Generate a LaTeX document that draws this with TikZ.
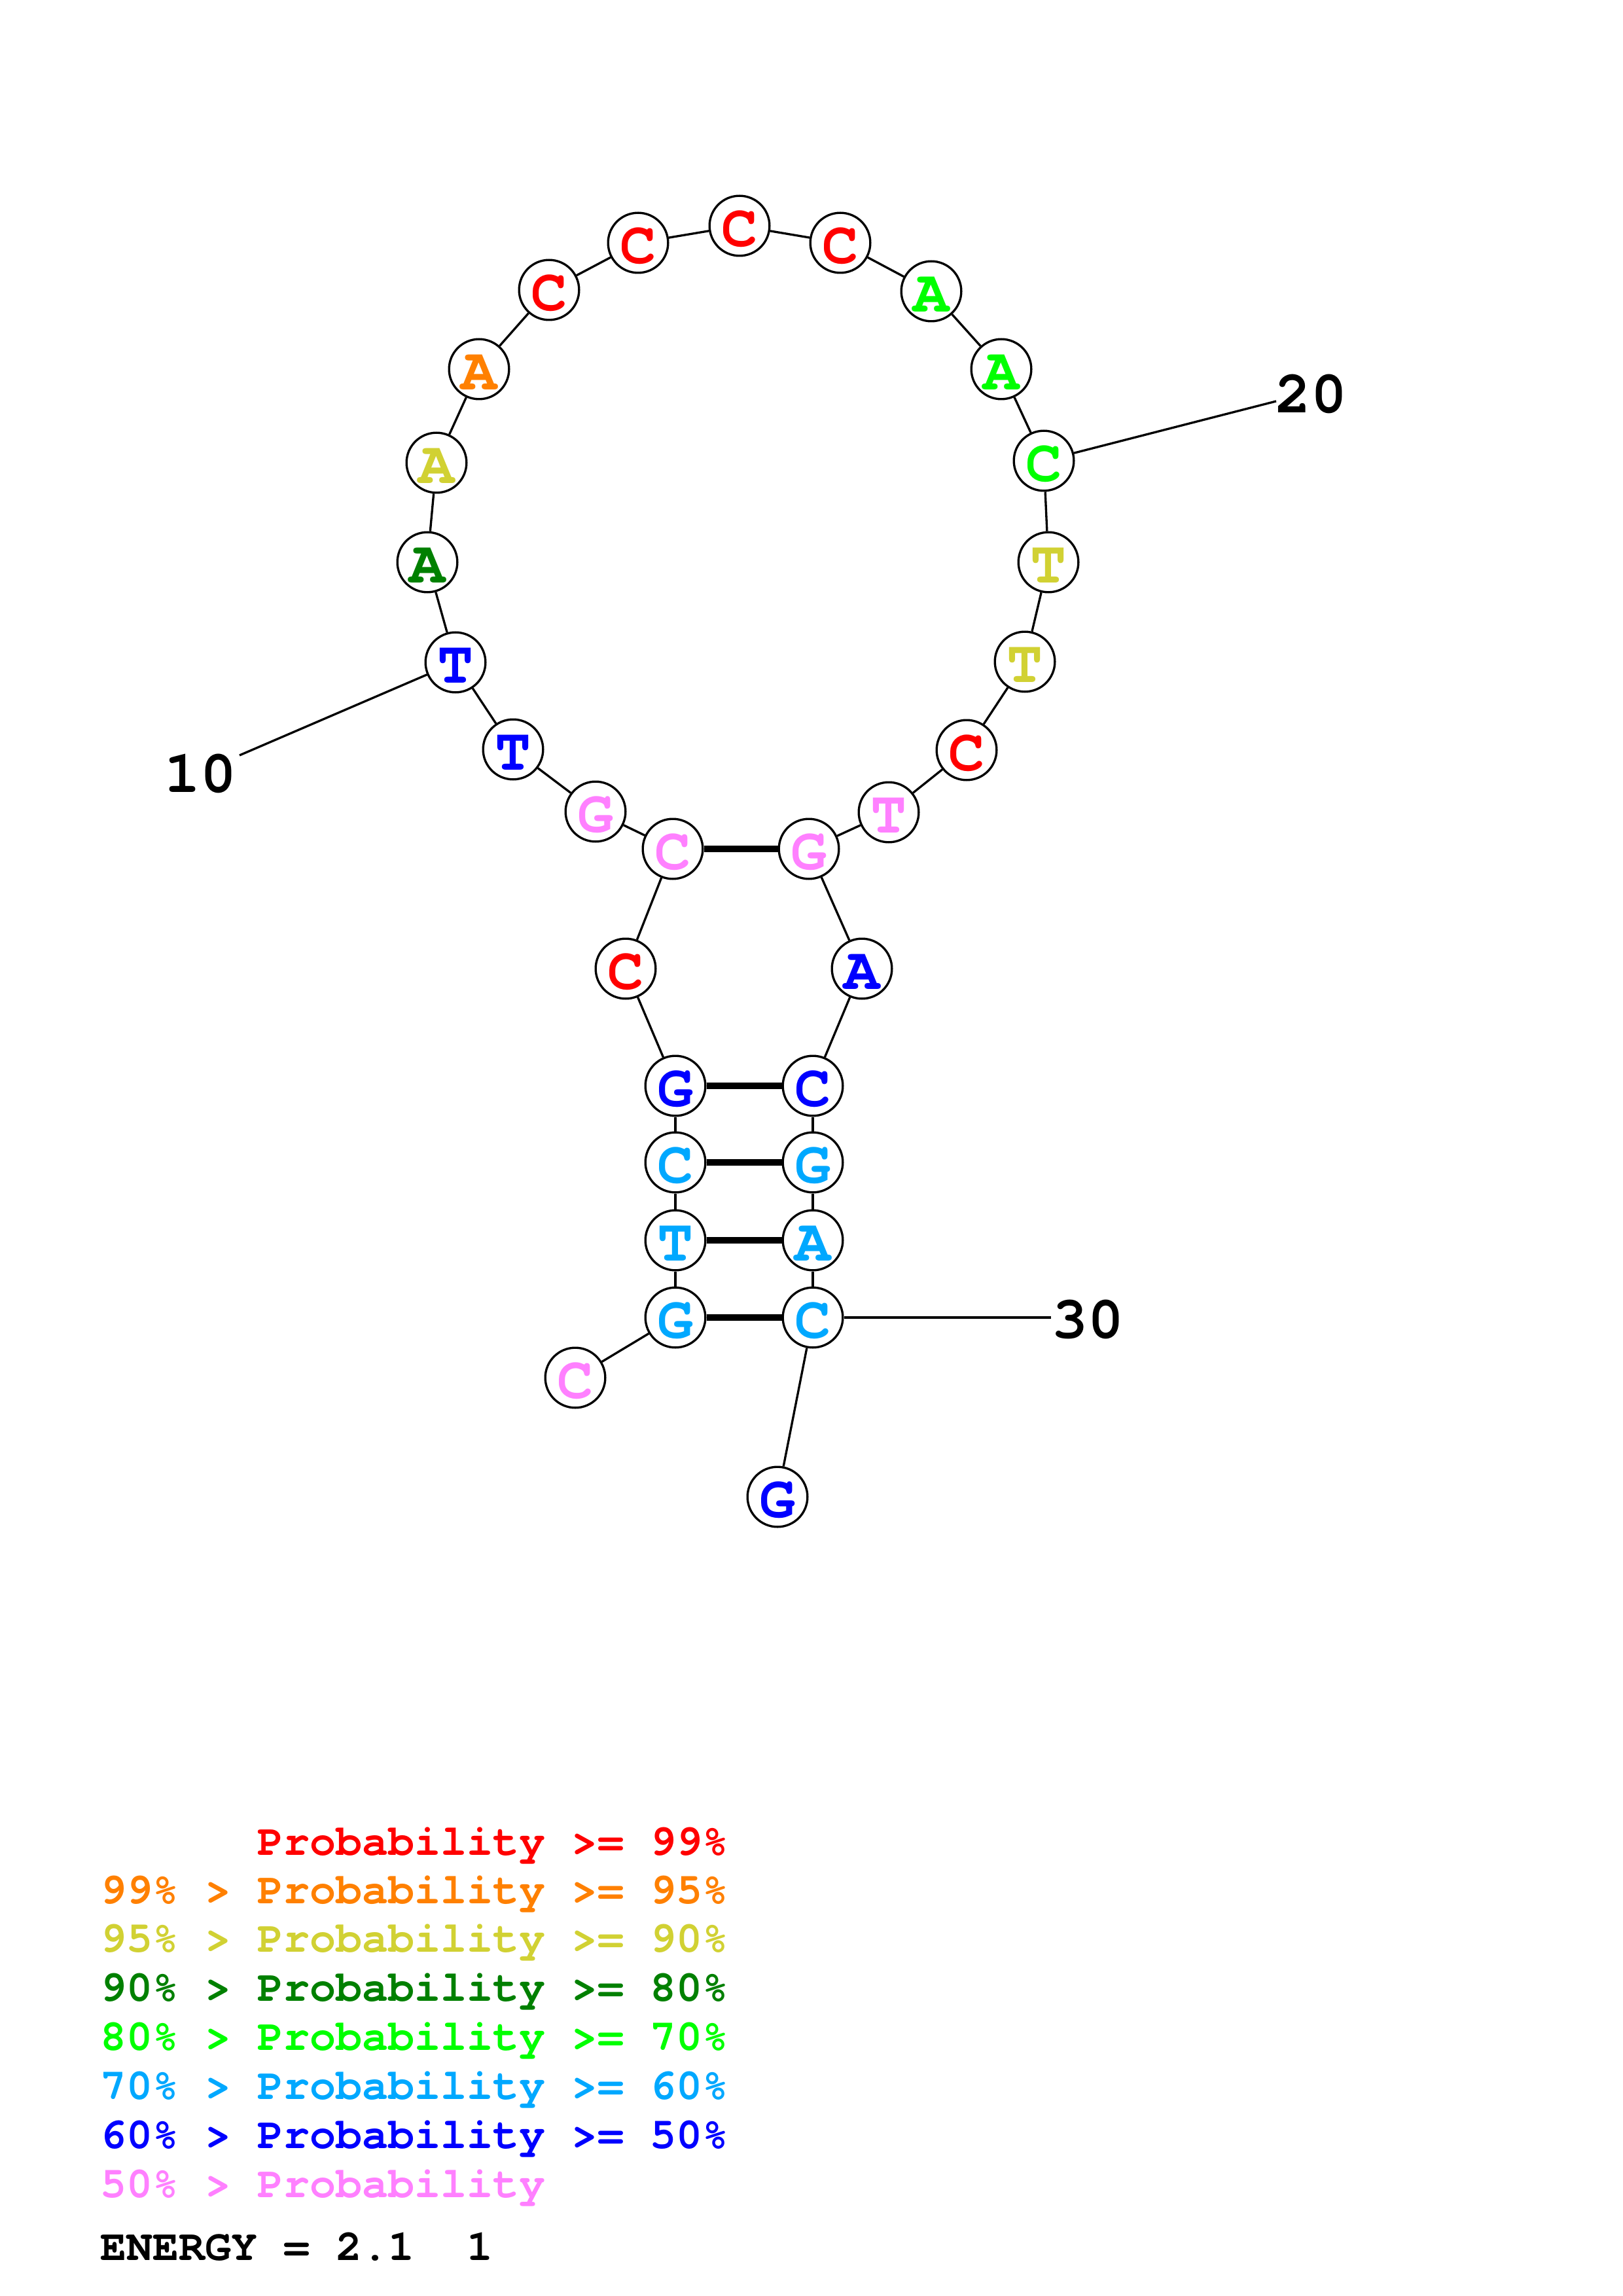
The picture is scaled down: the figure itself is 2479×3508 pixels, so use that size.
\documentclass[tikz,border=0pt]{standalone}
\usepackage{fontspec}
\newfontfamily\curb{texgyrecursor-bold.otf}
\definecolor{cRed}{rgb}{1,0,0}
\definecolor{cOrange}{rgb}{1,0.5,0}
\definecolor{cYellow}{rgb}{0.82,0.82,0.2}
\definecolor{cDGreen}{rgb}{0,0.5,0}
\definecolor{cGreen}{rgb}{0,1,0}
\definecolor{cLBlue}{rgb}{0,0.66,1}
\definecolor{cBlue}{rgb}{0,0,1}
\definecolor{cPink}{rgb}{1,0.5,1}
\begin{document}
\begin{tikzpicture}[x=0.24pt,y=-0.24pt,
  base/.style={circle,draw=black,fill=white,line width=0.8pt,minimum size=22pt,inner sep=0pt,
    text height=15pt,text depth=0pt,
    font=\curb\fontsize{22}{22}\selectfont},
  bb/.style={line width=0.8pt},
  pairline/.style={line width=2.5pt},
  numlab/.style={anchor=base,inner sep=0pt,font=\curb\fontsize{22}{22}\selectfont},
  leg/.style={anchor=base west,inner sep=0pt,font=\curb\fontsize{16}{16}\selectfont}]
\useasboundingbox[fill=white] (0,0) rectangle (2479,3508);
% nucleotides
\node[base,text=cPink]   (n1)  at (879,2105) {C};
\node[base,text=cLBlue]  (n2)  at (1032,2013) {G};
\node[base,text=cLBlue]  (n3)  at (1032,1895) {T};
\node[base,text=cLBlue]  (n4)  at (1032,1776) {C};
\node[base,text=cBlue]   (n5)  at (1032,1659) {G};
\node[base,text=cRed]    (n6)  at (956,1480) {C};
\node[base,text=cPink]   (n7)  at (1028,1297) {C};
\node[base,text=cPink]   (n8)  at (910,1240) {G};
\node[base,text=cBlue]   (n9)  at (784,1145) {T};
\node[base,text=cBlue]   (n10) at (696,1012) {T};
\node[base,text=cDGreen] (n11) at (653,859) {A};
\node[base,text=cYellow] (n12) at (667,707) {A};
\node[base,text=cOrange] (n13) at (732,564) {A};
\node[base,text=cRed]    (n14) at (839,443) {C};
\node[base,text=cRed]    (n15) at (975,371) {C};
\node[base,text=cRed]    (n16) at (1130,345) {C};
\node[base,text=cRed]    (n17) at (1284,371) {C};
\node[base,text=cGreen]  (n18) at (1423,445) {A};
\node[base,text=cGreen]  (n19) at (1530,564) {A};
\node[base,text=cGreen]  (n20) at (1595,704) {C};
\node[base,text=cYellow] (n21) at (1602,859) {T};
\node[base,text=cYellow] (n22) at (1566,1011) {T};
\node[base,text=cRed]    (n23) at (1477,1146) {C};
\node[base,text=cPink]   (n24) at (1358,1241) {T};
\node[base,text=cPink]   (n25) at (1236,1297) {G};
\node[base,text=cBlue]   (n26) at (1317,1480) {A};
\node[base,text=cBlue]   (n27) at (1242,1659) {C};
\node[base,text=cLBlue]  (n28) at (1242,1776) {G};
\node[base,text=cLBlue]  (n29) at (1242,1895) {A};
\node[base,text=cLBlue]  (n30) at (1242,2013) {C};
\node[base,text=cBlue]   (n31) at (1188,2287) {G};
% backbone
\foreach \a/\b in {1/2,2/3,3/4,4/5,5/6,6/7,7/8,8/9,9/10,10/11,11/12,12/13,13/14,14/15,15/16,16/17,17/18,18/19,19/20,20/21,21/22,22/23,23/24,24/25,25/26,26/27,27/28,28/29,29/30,30/31}
  \draw[bb] (n\a) -- (n\b);
% pairs
\foreach \a/\b in {7/25,5/27,4/28,3/29,2/30}
  \draw[pairline] (n\a) -- (n\b);
% position labels
\coordinate (e10) at (366,1154);
\coordinate (e20) at (1950,613);
\coordinate (e30) at (1606,2013);
\draw[bb] (n10) -- (e10);
\draw[bb] (n20) -- (e20);
\draw[bb] (n30) -- (e30);
\node[numlab] (t10) at (306,1210) {10};
\node[numlab] (t20) at (2003,631) {20};
\node[numlab] (t30) at (1662,2044) {30};
% legend
\node[leg,text=cRed]    (g1) at (393,2834) {Probability >= 99\%};
\node[leg,text=cOrange] (g2) at (153,2908) {99\% > Probability >= 95\%};
\node[leg,text=cYellow] (g3) at (153,2982) {95\% > Probability >= 90\%};
\node[leg,text=cDGreen] (g4) at (153,3057) {90\% > Probability >= 80\%};
\node[leg,text=cGreen]  (g5) at (153,3132) {80\% > Probability >= 70\%};
\node[leg,text=cLBlue]  (g6) at (153,3207) {70\% > Probability >= 60\%};
\node[leg,text=cBlue]   (g7) at (153,3282) {60\% > Probability >= 50\%};
\node[leg,text=cPink]   (g8) at (153,3357) {50\% > Probability};
\node[leg,text=black]   (g9) at (153,3453) {ENERGY = 2.1\hspace{0.6em}\hspace{0.6em}1};
\end{tikzpicture}
\end{document}
